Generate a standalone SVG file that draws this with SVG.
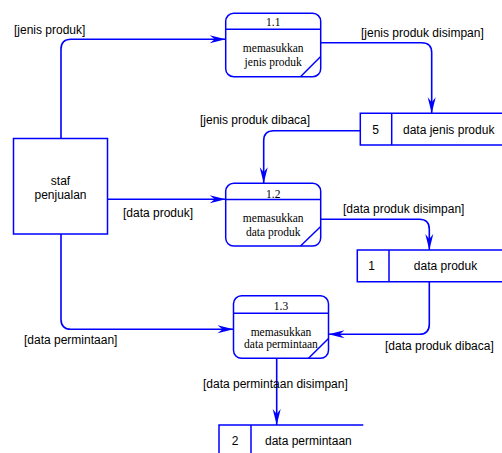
<svg xmlns="http://www.w3.org/2000/svg" width="502" height="453" viewBox="0 0 502 453">
  <style>
    .ln { fill: none; stroke: #0000ff; stroke-width: 1.5; }
    .box { fill: #ffffff; stroke: #0000ff; stroke-width: 1.5; }
    .flow { fill: none; stroke: #0000ff; stroke-width: 1.6; marker-end: url(#arrow); }
    .lbl { font-family: "Liberation Sans", Arial, sans-serif; font-size: 12px; fill: #000000; }
    .ptxt { font-family: "Liberation Serif", "Times New Roman", serif; font-size: 11.5px; fill: #000000; text-anchor: middle; }
    .mid { text-anchor: middle; }
  </style>
  <defs>
    <marker id="arrow" markerUnits="userSpaceOnUse" markerWidth="18" markerHeight="10" viewBox="-16 -5 17 10" refX="0" refY="0" orient="auto">
      <path d="M0,0 L-16,-4 L-11,0 L-16,4 Z" fill="#0000ff"/>
    </marker>
  </defs>

  <rect width="502" height="453" fill="#ffffff"/>

  <!-- external entity -->
  <g id="staf-penjualan">
    <rect class="box" x="13.5" y="138.5" width="94" height="95.5"/>
    <text class="lbl mid" x="60.5" y="185">staf</text>
    <text class="lbl mid" x="60.5" y="199">penjualan</text>
  </g>

  <!-- process 1.1 -->
  <g id="proc-1-1">
    <rect class="box" x="225.7" y="13.3" width="95" height="63.4" rx="8"/>
    <line class="ln" x1="225.7" y1="29.3" x2="320.7" y2="29.3"/>
    <line class="ln" x1="300.5" y1="76.7" x2="320.7" y2="56.5"/>
    <text class="ptxt" x="273.2" y="25.8">1.1</text>
    <text class="ptxt" x="273.2" y="52">memasukkan</text>
    <text class="ptxt" x="273.2" y="65.5">jenis produk</text>
  </g>

  <!-- process 1.2 -->
  <g id="proc-1-2">
    <rect class="box" x="225.7" y="183.3" width="95" height="62.7" rx="8"/>
    <line class="ln" x1="225.7" y1="199.5" x2="320.7" y2="199.5"/>
    <line class="ln" x1="300.5" y1="246" x2="320.7" y2="226.5"/>
    <text class="ptxt" x="273.2" y="197.5">1.2</text>
    <text class="ptxt" x="273.2" y="222">memasukkan</text>
    <text class="ptxt" x="273.2" y="236">data produk</text>
  </g>

  <!-- process 1.3 -->
  <g id="proc-1-3">
    <rect class="box" x="233.5" y="295.8" width="95" height="62.5" rx="8"/>
    <line class="ln" x1="233.5" y1="313.3" x2="328.5" y2="313.3"/>
    <line class="ln" x1="308.5" y1="358.3" x2="328.5" y2="338.5"/>
    <text class="ptxt" x="281" y="309.7">1.3</text>
    <text class="ptxt" x="281" y="335.5">memasukkan</text>
    <text class="ptxt" x="281" y="347.5">data permintaan</text>
  </g>

  <!-- data store 5 -->
  <g id="store-5">
    <path class="ln" d="M502,113.3 H360.3 V145 H502 M391.7,113.3 V145"/>
    <text class="lbl mid" x="375.5" y="134.3">5</text>
    <text class="lbl" x="403" y="134.3">data jenis produk</text>
  </g>

  <!-- data store 1 -->
  <g id="store-1">
    <path class="ln" d="M502,250 H357.3 V281.7 H502 M389,250 V281.7"/>
    <text class="lbl mid" x="371.5" y="270.3">1</text>
    <text class="lbl mid" x="445.5" y="270.3">data produk</text>
  </g>

  <!-- data store 2 -->
  <g id="store-2">
    <path class="ln" d="M363.3,425 H219 V453 M251,425 V453"/>
    <text class="lbl mid" x="235" y="444.5">2</text>
    <text class="lbl" x="265" y="444.5">data permintaan</text>
  </g>

  <!-- data flows -->
  <g id="connectors">
    <path class="flow" d="M61,138.5 V49.3 Q61,39.3 71,39.3 H225.7"/>
    <path class="flow" d="M320.7,42.7 H421.7 Q431.7,42.7 431.7,52.7 V113.3"/>
    <path class="flow" d="M360.3,130.7 H273.7 Q263.7,130.7 263.7,140.7 V183.3"/>
    <path class="flow" d="M107.5,199.3 H225.7"/>
    <path class="flow" d="M320.7,219.3 H419.3 Q429.3,219.3 429.3,229.3 V250"/>
    <path class="flow" d="M429.3,281.7 V324.3 Q429.3,334.3 419.3,334.3 H328.5"/>
    <path class="flow" d="M61,234 V319.3 Q61,329.3 71,329.3 H233.5"/>
    <path class="flow" d="M276.7,358.3 V425"/>
  </g>

  <!-- flow labels -->
  <g id="flow-labels">
    <text class="lbl" x="14" y="33.5">[jenis produk]</text>
    <text class="lbl" x="361" y="37">[jenis produk disimpan]</text>
    <text class="lbl" x="200" y="123.5">[jenis produk dibaca]</text>
    <text class="lbl" x="123" y="217">[data produk]</text>
    <text class="lbl" x="343" y="212.5">[data produk disimpan]</text>
    <text class="lbl" x="24" y="343.5">[data permintaan]</text>
    <text class="lbl" x="385" y="349.5">[data produk dibaca]</text>
    <text class="lbl" x="203" y="387.5">[data permintaan disimpan]</text>
  </g>
</svg>
